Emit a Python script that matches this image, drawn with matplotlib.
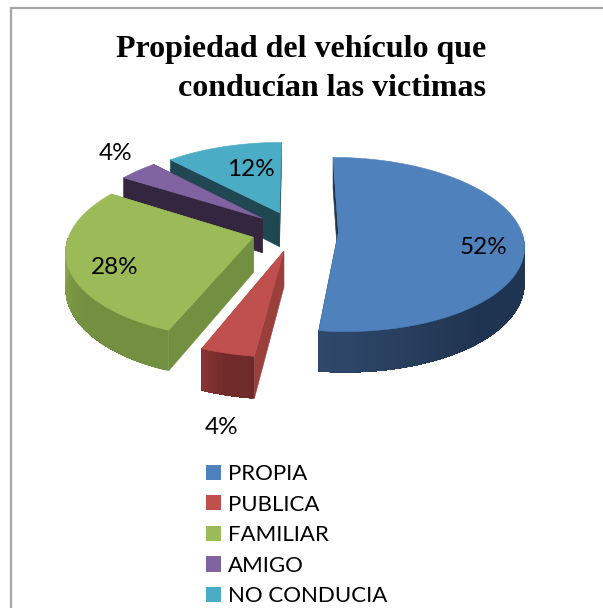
import numpy as np
import matplotlib
matplotlib.use("Agg")
import matplotlib.pyplot as plt
from matplotlib.patches import Patch

# ---------------------------------------------------------------
# Chart data
# ---------------------------------------------------------------
categories = ["PROPIA", "PUBLICA", "FAMILIAR", "AMIGO", "NO CONDUCIA"]
values = [52, 4, 28, 4, 12]
title_lines = ["Propiedad del vehículo que", "conducían las victimas"]

top_colors = ["#4F81BD", "#C0504D", "#9BBB59", "#8064A2", "#4BACC6"]
side_colors = ["#1F3550", "#9A3F3C", "#72903F", "#34263F", "#1F4853"]
wall_left = ["#30496B", "#8A3533", "#8BAA4E", "#34263F", "#1F4853"]
wall_right = ["#1F3450", "#702A29", "#72903F", "#34263F", "#1F4853"]

# ---------------------------------------------------------------
# Layout of the projected pie, in figure pixels
# ---------------------------------------------------------------
CX, CY = 295, 231
RX, RY = 183, 85
DEPTH = 35
PERSPECTIVE = 0.14
EXPLODE = 0.237

label_pos = [(484, 248), (222, 427), (115, 267), (116, 154), (251, 169)]


def project(px, py, z=0.0):
    s = 1.0 / (1.0 + PERSPECTIVE * py)
    return CX + RX * px * s, CY - RY * py * s + DEPTH * z * s


def blend(c1, c2, t):
    a = np.array(matplotlib.colors.to_rgb(c1))
    b = np.array(matplotlib.colors.to_rgb(c2))
    return tuple(a + (b - a) * t)


def draw_slice(ax, start, end, i):
    mid = np.radians((start + end) / 2)
    ox, oy = EXPLODE * np.sin(mid), EXPLODE * np.cos(mid)
    th = np.radians(np.linspace(start, end, 160))
    arc_x = ox + np.sin(th)
    arc_y = oy + np.cos(th)

    # straight cut faces
    for k in (0, -1):
        p0 = project(ox, oy)
        p1 = project(arc_x[k], arc_y[k])
        p2 = project(arc_x[k], arc_y[k], 1)
        p3 = project(ox, oy, 1)
        ax.fill([p0[0], p1[0], p2[0], p3[0]], [p0[1], p1[1], p2[1], p3[1]],
                color=side_colors[i], lw=0.4)

    # outer wall, only where it faces the viewer
    # each strip runs to the end of the wall so no seams show
    front = np.where(np.cos(th) < 0)[0]
    if len(front) > 1:
        last = front[-1]
        for n in range(front[0], last):
            frac = (n - front[0]) / (last - front[0])
            t = max(0.0, (frac - 0.5) / 0.5)
            up_x, up_y = project(arc_x[n:last + 1], arc_y[n:last + 1])
            low_x, low_y = project(arc_x[n:last + 1], arc_y[n:last + 1], 1)
            xs = np.r_[up_x, low_x[::-1]]
            ys = np.r_[up_y, low_y[::-1]]
            ax.fill(xs, ys, color=blend(wall_right[i], wall_left[i], t), lw=0)

    # top surface
    top_x, top_y = project(np.r_[ox, arc_x], np.r_[oy, arc_y])
    ax.fill(top_x, top_y, color=top_colors[i], lw=0.4)


def main():
    plt.rcParams["font.family"] = ["Lato", "DejaVu Sans"]

    fig = plt.figure(figsize=(6.03, 6.08), dpi=100)
    ax = fig.add_axes([0, 0, 1, 1])
    ax.set_xlim(0, 603)
    ax.set_ylim(608, 0)
    ax.axis("off")

    # chart border, only left and top are inside the crop
    ax.plot([10.5, 10.5, 603], [608, 7.5, 7.5], color="#A6A6A6", lw=1.6)

    ax.text(486, 50, title_lines[0], family="Liberation Serif", weight="bold",
            fontsize=23, ha="right", va="center")
    ax.text(486, 88, title_lines[1], family="Liberation Serif", weight="bold",
            fontsize=23, ha="right", va="center")

    edges = np.r_[0, np.cumsum(values)] * 360.0 / sum(values)
    for i in [4, 3, 2, 1, 0]:
        draw_slice(ax, edges[i], edges[i + 1], i)

    for v, (x, y) in zip(values, label_pos):
        ax.text(x, y, f"{v}%", fontsize=17.5, ha="center", va="center", color="black")

    handles = [Patch(facecolor=c, edgecolor="none") for c in top_colors]
    ax.legend(handles, categories, loc="upper left", bbox_to_anchor=(206, 464),
              bbox_transform=ax.transData, frameon=False, fontsize=16,
              handlelength=0.68, handleheight=0.68, handletextpad=0.32,
              labelspacing=0.475, borderpad=0, borderaxespad=0)

    fig.savefig("out.png", dpi=100)


if __name__ == "__main__":
    main()
